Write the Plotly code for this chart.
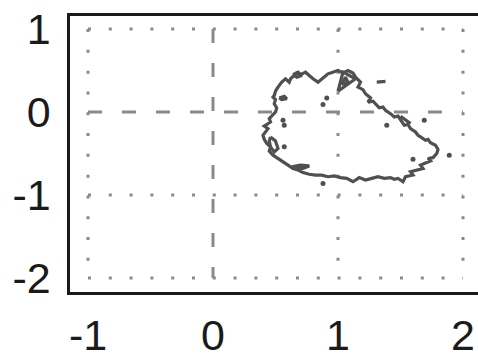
import plotly.graph_objects as go

# Tick values / labels
x_ticks = [-1, 0, 1, 2]
y_ticks = [-2, -1, 0, 1]
x_ticktext = ["-1", "0", "1", "2"]
y_ticktext = ["-2", "-1", "0", "1"]
x_dotted = [-1, 1, 2]
y_dotted = [-2, -1, 1]

# Main contour outline
main_x = [0.52, 0.55, 0.58, 0.61, 0.62, 0.64, 0.67, 0.70, 0.74, 0.77, 0.80, 0.84, 0.86, 0.88, 0.92,
          0.96, 1.00, 1.04, 1.08, 1.12, 1.14, 1.18, 1.16, 1.20, 1.22, 1.26, 1.24, 1.28, 1.30, 1.33,
          1.36, 1.38, 1.42, 1.45, 1.48, 1.50, 1.53, 1.56, 1.58, 1.62, 1.64, 1.66, 1.70, 1.72, 1.74,
          1.78, 1.80, 1.79, 1.76, 1.72, 1.74, 1.69, 1.66, 1.68, 1.63, 1.58, 1.60, 1.54, 1.52, 1.48,
          1.45, 1.42, 1.37, 1.32, 1.27, 1.22, 1.17, 1.14, 1.12, 1.07, 1.02, 0.97, 0.92, 0.87, 0.82,
          0.77, 0.72, 0.68, 0.64, 0.60, 0.56, 0.52, 0.50, 0.48, 0.45, 0.46, 0.43, 0.41, 0.40, 0.42,
          0.44, 0.41, 0.43, 0.46, 0.45, 0.47, 0.50, 0.51, 0.49, 0.50, 0.48, 0.49, 0.50, 0.52]
main_y = [0.30, 0.36, 0.40, 0.36, 0.40, 0.43, 0.47, 0.45, 0.48, 0.44, 0.40, 0.36, 0.39, 0.41, 0.46,
          0.48, 0.50, 0.47, 0.50, 0.47, 0.42, 0.36, 0.30, 0.27, 0.22, 0.17, 0.12, 0.13, 0.10, 0.05,
          0.06, 0.02, -0.02, -0.06, -0.05, -0.10, -0.16, -0.15, -0.20, -0.24, -0.28, -0.30, -0.34, -0.33, -0.37,
          -0.40, -0.45, -0.50, -0.55, -0.56, -0.59, -0.62, -0.64, -0.68, -0.70, -0.72, -0.76, -0.78, -0.84, -0.80,
          -0.81, -0.79, -0.80, -0.78, -0.80, -0.82, -0.79, -0.82, -0.84, -0.80, -0.79, -0.77, -0.78, -0.76, -0.76,
          -0.75, -0.73, -0.70, -0.68, -0.64, -0.60, -0.57, -0.55, -0.52, -0.47, -0.42, -0.38, -0.33, -0.28, -0.24,
          -0.20, -0.17, -0.15, -0.12, -0.08, -0.05, 0.00, 0.05, 0.10, 0.15, 0.18, 0.20, 0.25, 0.30]

# Small closed islands of the contour
islands = [
    ([0.64, 0.68, 0.71, 0.67, 0.64], [0.45, 0.48, 0.44, 0.42, 0.45]),
    ([1.00, 1.04, 1.14, 1.00], [0.25, 0.48, 0.40, 0.25]),
    ([1.03, 1.06, 1.08, 1.03], [0.33, 0.42, 0.36, 0.33]),
    ([0.53, 0.57, 0.59, 0.55, 0.53], [0.17, 0.19, 0.16, 0.15, 0.17]),
    ([1.31, 1.38], [0.36, 0.37]),
    ([1.50, 1.55, 1.58], [-0.05, -0.10, -0.14]),
    ([0.46, 0.50, 0.52, 0.49, 0.46, 0.45, 0.46], [-0.30, -0.35, -0.44, -0.48, -0.42, -0.35, -0.30]),
    ([0.63, 0.70, 0.77, 0.72, 0.65, 0.63], [-0.66, -0.64, -0.65, -0.68, -0.68, -0.66]),
]

# Isolated tiny contour dots
dot_x = [0.91, 0.88, 0.56, 0.57, 0.57, 1.39, 1.69, 1.60, 1.89, 0.88]
dot_y = [0.17, 0.09, -0.10, -0.16, -0.42, -0.16, -0.10, -0.57, -0.52, -0.86]

grid_col = "#8a8a8a"
line_col = "#505050"

fig = go.Figure()

xmin, xmax = min(x_ticks), max(x_ticks)
ymin, ymax = min(y_ticks), max(y_ticks)

for xv in x_dotted:
    fig.add_trace(go.Scatter(x=[xv, xv], y=[ymax, ymin], mode="lines",
                             line=dict(color=grid_col, width=3, dash="3px,17.8px"),
                             hoverinfo="skip", showlegend=False))
for yv in y_dotted:
    fig.add_trace(go.Scatter(x=[xmin, xmax], y=[yv, yv], mode="lines",
                             line=dict(color=grid_col, width=3, dash="3px,17.8px"),
                             hoverinfo="skip", showlegend=False))
fig.add_trace(go.Scatter(x=[0, 0], y=[ymax, ymin], mode="lines",
                         line=dict(color=grid_col, width=3, dash="14px,20px"),
                         hoverinfo="skip", showlegend=False))
fig.add_trace(go.Scatter(x=[xmin, xmax], y=[0, 0], mode="lines",
                         line=dict(color=grid_col, width=3, dash="14px,20px"),
                         hoverinfo="skip", showlegend=False))

fig.add_trace(go.Scatter(x=main_x, y=main_y, mode="lines",
                         line=dict(color=line_col, width=3.2), showlegend=False))
for ix, iy in islands:
    fig.add_trace(go.Scatter(x=ix, y=iy, mode="lines",
                             line=dict(color=line_col, width=3.2), showlegend=False))
fig.add_trace(go.Scatter(x=dot_x, y=dot_y, mode="markers",
                         marker=dict(color=line_col, size=5), showlegend=False))

fig.update_layout(
    width=478, height=358,
    margin=dict(l=70, r=0, t=16, b=66),
    paper_bgcolor="white", plot_bgcolor="white",
    font=dict(family="Liberation Sans, Arial, sans-serif", size=43, color="#1a1a1a"),
    xaxis=dict(range=[-1.144, 2.12], tickvals=x_ticks, ticktext=x_ticktext,
               showgrid=False, zeroline=False, automargin=False,
               showline=True, mirror=True, linecolor="#1a1a1a", linewidth=2.5,
               ticks="outside", ticklen=4, tickcolor="rgba(0,0,0,0)"),
    yaxis=dict(range=[-2.169, 1.157], tickvals=y_ticks, ticktext=y_ticktext,
               showgrid=False, zeroline=False, automargin=False,
               showline=True, mirror=False, linecolor="#1a1a1a", linewidth=2.5,
               ticks="outside", ticklen=8, tickcolor="rgba(0,0,0,0)"),
)

fig.write_html("out.html", config={"displayModeBar": False},
               post_script="document.body.style.margin='0';document.body.style.overflow='hidden';")
